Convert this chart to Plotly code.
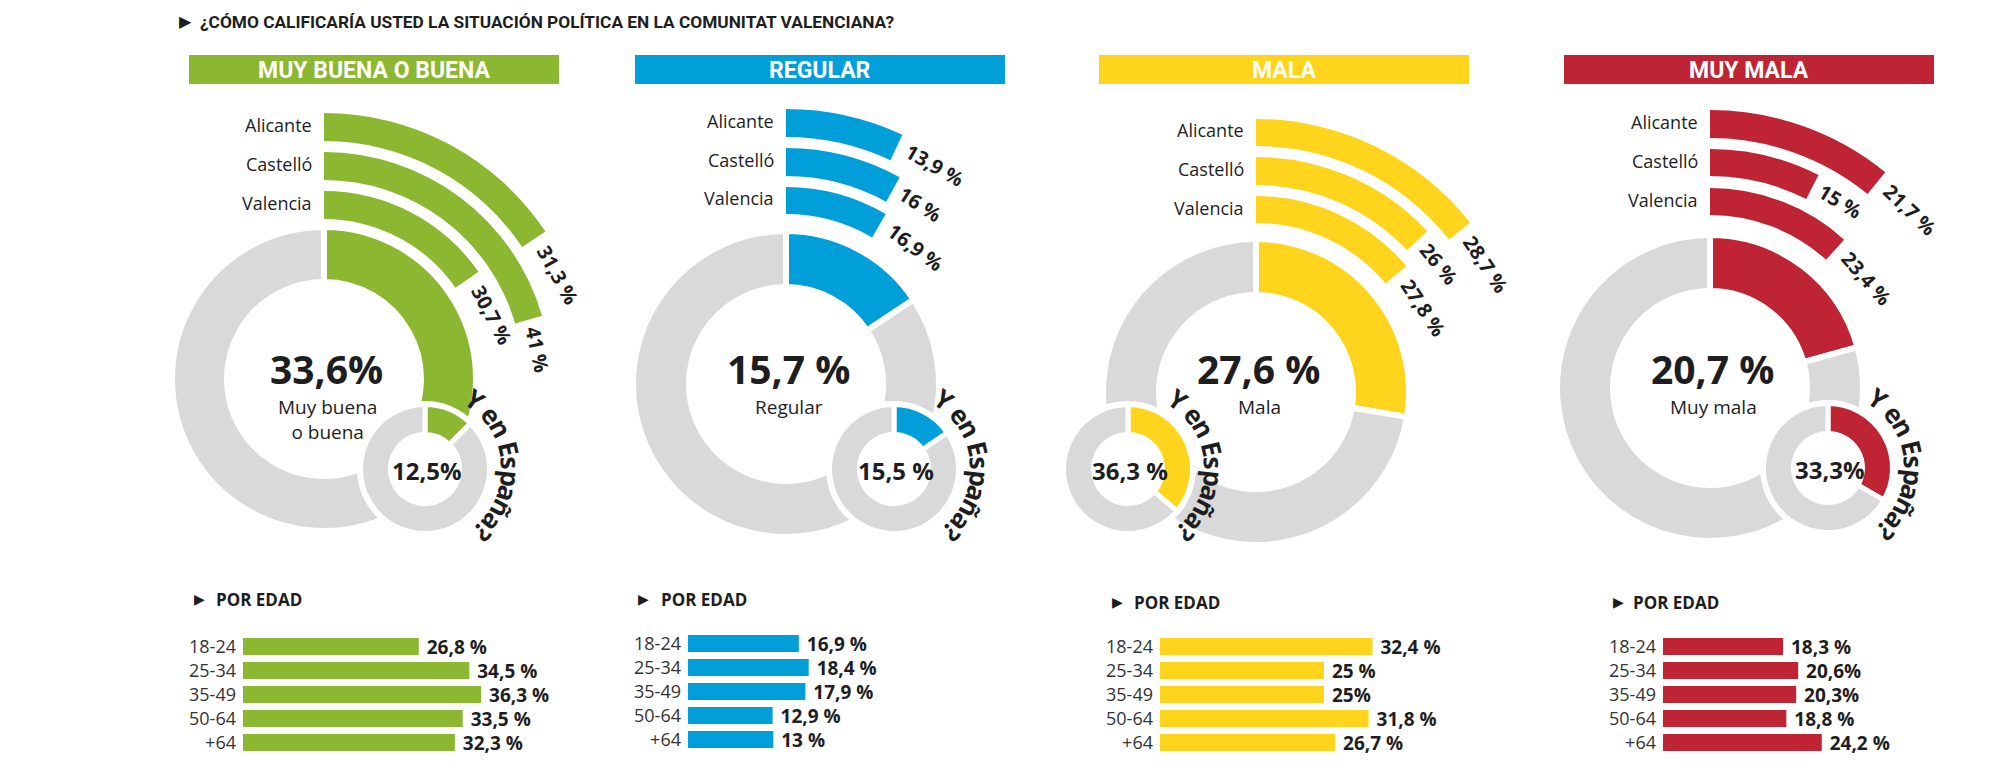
import numpy as np
import plotly.graph_objects as go

W, H = 2000, 774

# ---------------- data ----------------
TITLE = "¿CÓMO CALIFICARÍA USTED LA SITUACIÓN POLÍTICA EN LA COMUNITAT VALENCIANA?"
categories = ["MUY BUENA O BUENA", "REGULAR", "MALA", "MUY MALA"]
center_labels = ["Muy buena<br>o buena", "Regular", "Mala", "Muy mala"]

total_cv = [33.6, 15.7, 27.6, 20.7]
total_cv_labels = ["33,6%", "15,7 %", "27,6 %", "20,7 %"]
spain = [12.5, 15.5, 36.3, 33.3]
spain_labels = ["12,5%", "15,5 %", "36,3 %", "33,3%"]

provinces = ["Alicante", "Castelló", "Valencia"]
alicante = [31.3, 13.9, 28.7, 21.7]
castello = [41, 16, 26, 15]
valencia = [30.7, 16.9, 27.8, 23.4]

age_groups = ["18-24", "25-34", "35-49", "50-64", "+64"]
age_buena = [26.8, 34.5, 36.3, 33.5, 32.3]
age_regular = [16.9, 18.4, 17.9, 12.9, 13]
age_mala = [32.4, 25, 25, 31.8, 26.7]
age_muymala = [18.3, 20.6, 20.3, 18.8, 24.2]
age_buena_labels = ["26,8 %", "34,5 %", "36,3 %", "33,5 %", "32,3 %"]
age_regular_labels = ["16,9 %", "18,4 %", "17,9 %", "12,9 %", "13 %"]
age_mala_labels = ["32,4 %", "25 %", "25%", "31,8 %", "26,7 %"]
age_muymala_labels = ["18,3 %", "20,6%", "20,3%", "18,8 %", "24,2 %"]

# ---------------- style / layout geometry ----------------
colors = ["#8BB731", "#009FD9", "#FFD41C", "#BE2433"]
GRAY = "#D9D9D9"
DARK = "#1E1E1E"
NARROW = "Roboto, Liberation Sans, sans-serif"
SANS = "Open Sans, Noto Sans, sans-serif"

header_x = [(189, 559), (635, 1005), (1099, 1469), (1564, 1934)]
HEADER_Y = (55, 84)
centers = [(324, 379), (786, 384), (1256, 392), (1710, 388)]
main_r = [(100, 149), (100, 150), (100, 150), (100, 150)]
arc_r = [  # (inner, outer) for Alicante, Castelló, Valencia
    [(238, 266), (199, 227), (160, 188)],
    [(247, 275), (208, 236), (170, 197)],
    [(246, 273), (207, 235), (169, 196)],
    [(250, 278), (212, 239), (173, 200)],
]
small_centers = [(425, 469), (894, 469), (1128, 469), (1828, 468)]
SMALL_R = (37, 62)
SMALL_BORDER = 68
BIG_R = 285

age_sets = [
    (age_buena, age_buena_labels),
    (age_regular, age_regular_labels),
    (age_mala, age_mala_labels),
    (age_muymala, age_muymala_labels),
]
age_bar_x0 = [243, 688, 1160, 1663]
age_top = [634.5, 631.5, 634.5, 634.5]
por_edad_pos = [(199, 214, 599), (643, 659, 599), (1117, 1132, 602), (1618, 1631, 602)]
PX_PER_PCT = 6.56


def px(x):
    return x / W


def py(y):
    return 1 - y / H


def dom(cx, cy, R):
    return dict(x=[px(cx - R), px(cx + R)], y=[py(cy + R), py(cy - R)])


def fmt(v):
    return ("%g" % v).replace(".", ",") + " %"


fig = go.Figure()
annotations = []
shapes = []
layout_extra = {}

# title
annotations.append(dict(x=px(185), y=py(22), xref="paper", yref="paper", text="▶",
                        showarrow=False, font=dict(family="DejaVu Sans", size=16, color=DARK),
                        xanchor="center", yanchor="middle"))
annotations.append(dict(x=px(198), y=py(22), xref="paper", yref="paper", text=TITLE,
                        showarrow=False, font=dict(family=NARROW, size=17.3, color=DARK, weight=700),
                        xanchor="left", yanchor="middle"))

regionals = [alicante, castello, valencia]

for i in range(4):
    col = colors[i]
    cx, cy = centers[i]
    # header
    x0, x1 = header_x[i]
    shapes.append(dict(type="rect", xref="paper", yref="paper", x0=px(x0), x1=px(x1),
                       y0=py(HEADER_Y[1]), y1=py(HEADER_Y[0]), fillcolor=col, line=dict(width=0),
                       layer="below"))
    annotations.append(dict(x=px((x0 + x1) / 2), y=py(sum(HEADER_Y) / 2 + 1), xref="paper", yref="paper",
                            text=categories[i], showarrow=False,
                            font=dict(family=NARROW, size=23, color="white", weight=700),
                            xanchor="center", yanchor="middle"))

    pname = "polar" if i == 0 else f"polar{i + 1}"
    sub = pname
    # main donut
    v = total_cv[i]
    ang = v * 3.6
    rin, rout = main_r[i]
    lw = 6
    fig.add_trace(go.Barpolar(
        subplot=sub,
        theta=[ang / 2, (ang + 360) / 2], width=[ang, 360 - ang],
        base=[rin - lw / 2] * 2, r=[rout - rin + lw] * 2,
        marker=dict(color=[col, GRAY], line=dict(color="white", width=lw)),
        hoverinfo="skip", showlegend=False))
    # provincial arcs
    th, wd, bs, rr = [], [], [], []
    for j in range(3):
        val = regionals[j][i]
        a = val * 1.8
        ri, ro = arc_r[i][j]
        th.append(a / 2)
        wd.append(a)
        bs.append(ri)
        rr.append(ro - ri)
    fig.add_trace(go.Barpolar(
        subplot=sub, theta=th, width=wd, base=bs, r=rr,
        marker=dict(color=col, line=dict(width=0)), hoverinfo="skip", showlegend=False))
    layout_extra[pname] = dict(
        domain=dom(cx, cy, BIG_R), bgcolor="rgba(0,0,0,0)", barmode="overlay",
        radialaxis=dict(range=[0, BIG_R], visible=False),
        angularaxis=dict(visible=False, rotation=90, direction="clockwise"))

    # province names and value labels
    for j in range(3):
        val = regionals[j][i]
        ri, ro = arc_r[i][j]
        rm = (ri + ro) / 2
        annotations.append(dict(x=px(cx - 10), y=py(cy - rm - 2), xref="paper", yref="paper",
                                text=provinces[j], showarrow=False,
                                font=dict(family=SANS, size=18, color=DARK),
                                xanchor="right", yanchor="middle"))
        lab = fmt(val)
        fs = 20
        wlab = len(lab) * 0.56 * fs
        t = np.radians(val * 1.8)
        ex, ey = cx + rm * np.sin(t), cy - rm * np.cos(t)
        d = 9 + wlab / 2
        lx, ly = ex + d * np.cos(t), ey + d * np.sin(t)
        rot = val * 1.8 + np.degrees(d / rm) * 0.5
        annotations.append(dict(x=px(lx), y=py(ly), xref="paper", yref="paper", text=lab,
                                showarrow=False, textangle=rot,
                                font=dict(family=SANS, size=fs, color=DARK, weight=700),
                                xanchor="center", yanchor="middle"))

    # center labels
    annotations.append(dict(x=px(cx + 2), y=py(368), xref="paper", yref="paper",
                            text=total_cv_labels[i], showarrow=False,
                            font=dict(family=SANS, size=39, color=DARK, weight=700),
                            xanchor="center", yanchor="middle"))
    annotations.append(dict(x=px(cx + 3), y=py(392), xref="paper", yref="paper",
                            text=center_labels[i], showarrow=False,
                            font=dict(family=SANS, size=19, color=DARK),
                            xanchor="center", yanchor="top"))

    # small donut (Spain)
    scx, scy = small_centers[i]
    sname = f"polar{i + 5}"
    s = spain[i]
    sa = s * 3.6
    sri, sro = SMALL_R
    slw = 5
    fig.add_trace(go.Barpolar(
        subplot=sname,
        theta=[sa / 2, (sa + 360) / 2], width=[sa, 360 - sa],
        base=[sri - slw / 2] * 2, r=[sro - sri + slw] * 2,
        marker=dict(color=[col, GRAY], line=dict(color="white", width=slw)),
        hoverinfo="skip", showlegend=False))
    layout_extra[sname] = dict(
        domain=dom(scx, scy, SMALL_BORDER), bgcolor="white", barmode="overlay",
        radialaxis=dict(range=[0, SMALL_BORDER], visible=False),
        angularaxis=dict(visible=False, rotation=90, direction="clockwise"))
    annotations.append(dict(x=px(scx + 2), y=py(scy + 1), xref="paper", yref="paper",
                            text=spain_labels[i], showarrow=False,
                            font=dict(family=SANS, size=24, color=DARK, weight=700),
                            xanchor="center", yanchor="middle"))

    # curved "Y en España?"
    phrase = "Y en España?"
    em = {"Y": .60, " ": .26, "e": .58, "n": .66, "E": .56, "s": .51, "p": .66,
          "a": .60, "ñ": .66, "?": .47}
    fs = 26
    rtxt = 86
    cum = 0.0
    start = 31.0
    for ch in phrase:
        w = em[ch] * fs
        sdist = cum + w / 2
        cum += w
        if ch == " ":
            continue
        a = start + np.degrees(sdist / rtxt)
        t = np.radians(a)
        annotations.append(dict(x=px(scx + rtxt * np.sin(t)), y=py(scy - rtxt * np.cos(t)),
                                xref="paper", yref="paper", text=ch, showarrow=False, textangle=a,
                                font=dict(family=SANS, size=fs, color=DARK, weight=700),
                                xanchor="center", yanchor="middle"))

    # age bars
    vals, labs = age_sets[i]
    xa = "x" if i == 0 else f"x{i + 1}"
    ya = "y" if i == 0 else f"y{i + 1}"
    fig.add_trace(go.Bar(
        x=vals, y=age_groups, orientation="h", xaxis=xa, yaxis=ya,
        marker=dict(color=col, line=dict(width=0)),
        text=["\u00a0" + l for l in labs], textposition="outside", textangle=0,
        constraintext="none", cliponaxis=False,
        textfont=dict(family=SANS, size=19, color=DARK, weight=700),
        hoverinfo="skip", showlegend=False))
    xmax = 45
    bx0 = age_bar_x0[i]
    top = age_top[i]
    xkey = "xaxis" if i == 0 else f"xaxis{i + 1}"
    ykey = "yaxis" if i == 0 else f"yaxis{i + 1}"
    layout_extra[xkey] = dict(domain=[px(bx0), px(bx0 + PX_PER_PCT * xmax)], range=[0, xmax],
                              visible=False, anchor=ya)
    layout_extra[ykey] = dict(domain=[py(top + 120), py(top)], anchor=xa,
                              categoryorder="array", categoryarray=age_groups,
                              autorange="reversed", showgrid=False, zeroline=False,
                              showline=False, ticks="", ticklabelstandoff=6,
                              tickfont=dict(family=SANS, size=18, color="#333"))
    tx, tt, ty = por_edad_pos[i]
    annotations.append(dict(x=px(tx), y=py(ty), xref="paper", yref="paper", text="▶",
                            showarrow=False, font=dict(family="DejaVu Sans", size=14, color=DARK),
                            xanchor="center", yanchor="middle"))
    annotations.append(dict(x=px(tt), y=py(ty), xref="paper", yref="paper", text="POR EDAD",
                            showarrow=False, font=dict(family=SANS, size=17, color=DARK, weight=700),
                            xanchor="left", yanchor="middle"))

fig.update_layout(
    width=W, height=H, margin=dict(l=0, r=0, t=0, b=0),
    paper_bgcolor="white", plot_bgcolor="white",
    bargap=0.29, showlegend=False,
    annotations=annotations, shapes=shapes,
    font=dict(family=SANS, color=DARK),
    **layout_extra)

fig.write_html(
    "out.html",
    config={"displayModeBar": False},
    post_script="document.body.style.margin='0px';document.body.style.padding='0px';"
                "document.documentElement.style.overflow='hidden';",
)
